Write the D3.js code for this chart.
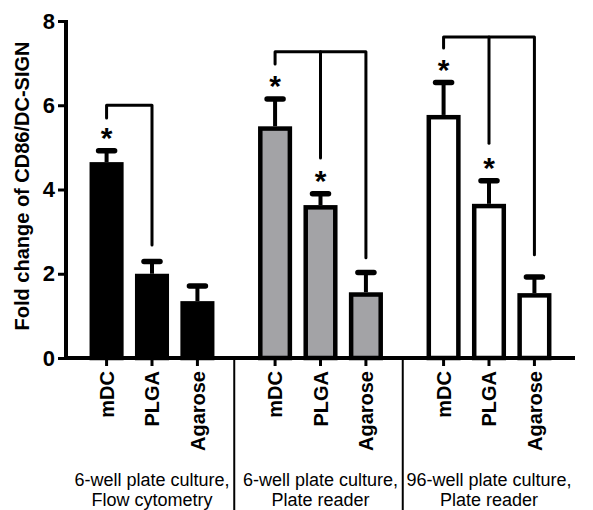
<!DOCTYPE html>
<html lang="en">
<head>
    <meta charset="UTF-8">
    <title>Fold change of CD86/DC-SIGN</title>
    <script src="https://d3js.org/d3.v7.min.js"></script>
    <style>
        body {
            margin: 0;
            background: #fff;
            font-family: "Liberation Sans", Arial, sans-serif;
        }
        .axis text {
            font-weight: bold;
            fill: #000;
        }
        .group-label {
            font-size: 18px;
            fill: #000;
        }
    </style>
</head>
<body>
    <svg id="chart" width="593" height="510"></svg>

    <script>
        // Données
        const groups = ["6-well plate culture,\nFlow cytometry", "6-well plate culture,\nPlate reader", "96-well plate culture,\nPlate reader"];
        const samples = ["mDC", "PLGA", "Agarose"];
        const means = [
            [4.65, 2.0, 1.35],
            [5.5, 3.63, 1.56],
            [5.77, 3.66, 1.54]
        ];
        const sems = [
            [0.27, 0.29, 0.36],
            [0.65, 0.27, 0.47],
            [0.77, 0.55, 0.38]
        ];
        const stars = [
            [true, false, false],
            [true, true, false],
            [true, true, false]
        ];
        // Crochets de comparaison : hauteur du trait horizontal et extrémité de chaque branche
        const bracketTops = [6.0, 7.27, 7.62];
        const bracketEnds = [
            [5.7, 2.68],
            [6.98, 4.75, 2.38],
            [7.36, 5.1, 2.45]
        ];
        const yTicks = [0, 2, 4, 6, 8];
        const fills = ["#000000", "#a3a3a6", "#ffffff"];

        const svg = d3.select("#chart");
        const axisX = 66, axisY = 358;

        const y = d3.scaleLinear().domain([0, 8]).range([axisY, 21]);

        const xGroup = d3.scaleBand()
            .domain(d3.range(groups.length))
            .range([67.75, 573.25]);

        const xBar = d3.scaleBand()
            .domain(samples)
            .range([0, xGroup.bandwidth()])
            .paddingInner(0.25)
            .paddingOuter(0.48);

        const cx = (g, s) => xGroup(g) + xBar(s) + xBar.bandwidth() / 2;

        // Axe Y
        const yAxis = svg.append("g")
            .attr("class", "axis")
            .attr("transform", `translate(${axisX},0)`)
            .call(d3.axisLeft(y).tickValues(yTicks).tickSize(8).tickSizeOuter(0).tickPadding(3));
        yAxis.select(".domain").attr("stroke-width", 4).attr("d", `M0,${y(8) - 1}V${axisY + 2}`);
        yAxis.selectAll(".tick line").attr("stroke-width", 3);
        yAxis.selectAll(".tick text").style("font-size", "22px");

        // Titre Y
        svg.append("text")
            .attr("transform", `translate(29,${(37 + 335) / 2}) rotate(-90)`)
            .attr("text-anchor", "middle")
            .style("font-weight", "bold")
            .style("font-size", "20px")
            .text("Fold change of CD86/DC-SIGN");

        // Barres
        groups.forEach((grp, g) => {
            const gg = svg.append("g");
            const rows = samples.map((s, i) => ({ s, i, v: means[g][i], e: sems[g][i] }));
            const sw = 4.5;

            gg.selectAll("rect")
                .data(rows)
                .join("rect")
                .attr("x", d => xGroup(g) + xBar(d.s) + sw / 2)
                .attr("y", d => y(d.v) + sw / 2)
                .attr("width", xBar.bandwidth() - sw)
                .attr("height", d => axisY - y(d.v) - sw / 2)
                .attr("fill", fills[g])
                .attr("stroke", "#000")
                .attr("stroke-width", sw);

            // Barres d'erreur
            gg.selectAll(".err")
                .data(rows)
                .join("line")
                .attr("x1", d => cx(g, d.s)).attr("x2", d => cx(g, d.s))
                .attr("y1", d => y(d.v)).attr("y2", d => y(d.v + d.e))
                .attr("stroke", "#000").attr("stroke-width", 4);
            gg.selectAll(".cap")
                .data(rows)
                .join("line")
                .attr("x1", d => cx(g, d.s) - 8).attr("x2", d => cx(g, d.s) + 8)
                .attr("y1", d => y(d.v + d.e)).attr("y2", d => y(d.v + d.e))
                .attr("stroke", "#000").attr("stroke-width", 5.5)
                .attr("stroke-linecap", "round");

            // Étoiles
            gg.selectAll(".star")
                .data(rows.filter(d => stars[g][d.i]))
                .join("text")
                .attr("x", d => cx(g, d.s))
                .attr("y", d => y(d.v + d.e) - 3)
                .attr("text-anchor", "middle")
                .style("font-size", "30px")
                .style("font-weight", "bold")
                .text("*");

            // Crochets
            const top = y(bracketTops[g]);
            const ends = bracketEnds[g];
            const xl = cx(g, samples[0]), xr = cx(g, samples[ends.length - 1]);
            const line = d3.line();
            gg.append("path")
                .attr("d", line([[xl, y(ends[0])], [xl, top], [xr, top], [xr, y(ends[ends.length - 1])]]))
                .attr("fill", "none").attr("stroke", "#000").attr("stroke-width", 3)
                .attr("stroke-linecap", "round").attr("stroke-linejoin", "round");
            if (ends.length === 3) {
                const xm = cx(g, samples[1]);
                gg.append("path")
                    .attr("d", line([[xm, top], [xm, y(ends[1])]]))
                    .attr("fill", "none").attr("stroke", "#000").attr("stroke-width", 3)
                    .attr("stroke-linecap", "round");
            }

            // Axe X du groupe (graduations + étiquettes)
            const xa = svg.append("g")
                .attr("class", "axis")
                .attr("transform", `translate(${xGroup(g)},${axisY})`)
                .call(d3.axisBottom(xBar).tickSize(8).tickSizeOuter(0));
            xa.select(".domain").remove();
            xa.selectAll(".tick line").attr("stroke-width", 3);
            xa.selectAll(".tick text")
                .style("font-size", "20px")
                .style("text-anchor", "end")
                .attr("transform", "rotate(-90)")
                .attr("x", -13)
                .attr("y", 0)
                .attr("dy", "0.36em");

            // Libellé du groupe
            const lbl = svg.append("text")
                .attr("class", "group-label")
                .attr("text-anchor", "middle");
            grp.split("\n").forEach((t, k) => {
                lbl.append("tspan")
                    .attr("x", xGroup(g) + xGroup.bandwidth() / 2)
                    .attr("y", 486 + k * 20)
                    .text(t);
            });

            // Séparateurs
            if (g > 0) {
                svg.append("line")
                    .attr("x1", xGroup(g) - 2).attr("x2", xGroup(g) - 2)
                    .attr("y1", axisY).attr("y2", 510)
                    .attr("stroke", "#000").attr("stroke-width", 2);
            }
        });

        // Ligne de l'axe X
        svg.append("line")
            .attr("x1", axisX - 2).attr("x2", 575)
            .attr("y1", axisY).attr("y2", axisY)
            .attr("stroke", "#000").attr("stroke-width", 4);
    </script>
</body>
</html>
